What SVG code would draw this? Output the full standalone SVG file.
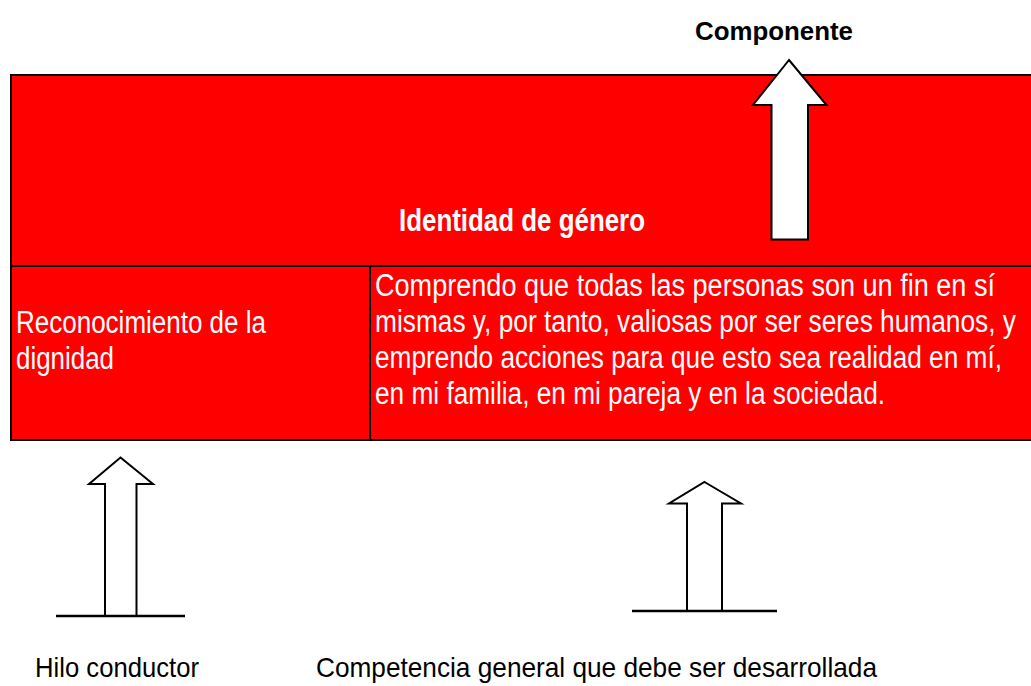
<svg xmlns="http://www.w3.org/2000/svg" width="1031" height="686" viewBox="0 0 1031 686">
<style>
.fill{fill:#ff0000;stroke:none}
.edge{fill:none;stroke:#000;stroke-width:2}
.arrow{fill:#fff;stroke:#000;stroke-width:2;stroke-linejoin:miter}
.base{stroke:#000;stroke-width:2.5;fill:none}
.t{font-family:"Liberation Sans Narrow","Liberation Sans",Arial,sans-serif}
.w{fill:#fff;font-size:31px}
.wb{fill:#fff;font-size:31px;font-weight:bold}
.k{fill:#000;font-size:28px}
.kb{fill:#000;font-size:25px;font-weight:bold}
</style>
<rect width="1031" height="686" fill="#fff"/>
<g id="componente-box">
<rect class="fill" x="11" y="75" width="1020" height="191"/>
<path class="edge" d="M1031,75 H11 V266 H1031"/>
<text class="t wb" x="399" y="231" textLength="246" lengthAdjust="spacingAndGlyphs">Identidad de género</text>
</g>
<g id="hilo-box">
<rect class="fill" x="11" y="266" width="359" height="174"/>
<path class="edge" d="M370,266 H11 V440 H370 Z"/>
<text class="t w" x="16" y="333" textLength="250" lengthAdjust="spacingAndGlyphs">Reconocimiento de la</text>
<text class="t w" x="16" y="369" textLength="98" lengthAdjust="spacingAndGlyphs">dignidad</text>
</g>
<g id="competencia-box">
<rect class="fill" x="370" y="266" width="661" height="174"/>
<path class="edge" d="M1031,266 H370 V440 H1031"/>
<text class="t w" x="375" y="296" textLength="620" lengthAdjust="spacingAndGlyphs">Comprendo que todas las personas son un fin en sí</text>
<text class="t w" x="375" y="332" textLength="641" lengthAdjust="spacingAndGlyphs">mismas y, por tanto, valiosas por ser seres humanos, y</text>
<text class="t w" x="375" y="368" textLength="627" lengthAdjust="spacingAndGlyphs">emprendo acciones para que esto sea realidad en mí,</text>
<text class="t w" x="375" y="404" textLength="510" lengthAdjust="spacingAndGlyphs">en mi familia, en mi pareja y en la sociedad.</text>
</g>
<g id="label-componente">
<text class="t kb" x="695" y="40" textLength="158" lengthAdjust="spacingAndGlyphs">Componente</text>
</g>
<g id="label-hilo">
<text class="t k" x="35" y="677" textLength="164" lengthAdjust="spacingAndGlyphs">Hilo conductor</text>
</g>
<g id="label-competencia">
<text class="t k" x="316" y="677" textLength="561" lengthAdjust="spacingAndGlyphs">Competencia general que debe ser desarrollada</text>
</g>
<g id="connectors">
<polygon class="arrow" points="789,60 826.5,105 808,105 808,239.5 771.5,239.5 771.5,105 753,105"/>
<polygon class="arrow" points="120.5,457.5 153,484 136.5,484 136.5,616 105,616 105,484 89,484"/>
<line class="base" x1="56" y1="616" x2="185" y2="616"/>
<polygon class="arrow" points="704.5,482 741,503.5 722,503.5 722,611 687,611 687,503.5 669,503.5"/>
<line class="base" x1="632" y1="611" x2="777" y2="611"/>
</g>
</svg>
